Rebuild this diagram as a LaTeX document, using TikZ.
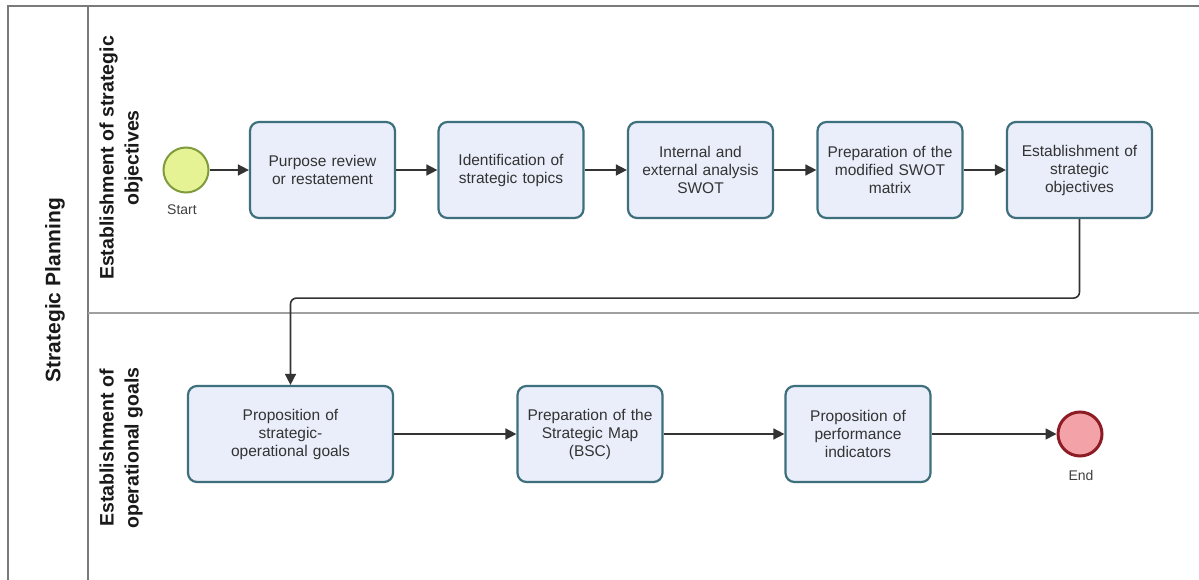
\documentclass[tikz,border=0pt]{standalone}
\usepackage{fontspec}
\setmainfont{Liberation Sans}
\usetikzlibrary{arrows.meta}
\definecolor{boxfill}{HTML}{E9EEFA}
\definecolor{boxline}{HTML}{3E6F7C}
\definecolor{startfill}{HTML}{E6F395}
\definecolor{startline}{HTML}{7F9B3C}
\definecolor{endfill}{HTML}{F3A2A8}
\definecolor{endline}{HTML}{8E1C25}
\definecolor{framec}{HTML}{7A7A7A}
\definecolor{lanec}{HTML}{A0A0A0}
\definecolor{txt}{HTML}{333333}
\tikzset{
  task/.style={draw=boxline, fill=boxfill, line width=2.2pt, rounded corners=9pt,
    minimum width=145pt, minimum height=96pt, text width=135pt, align=center,
    text=txt, font=\fontsize{15.5}{18}\selectfont, inner sep=0pt},
  startev/.style={circle, draw=startline, fill=startfill, line width=2pt, minimum size=45pt, inner sep=0pt},
  endev/.style={circle, draw=endline, fill=endfill, line width=3pt, minimum size=44pt, inner sep=0pt},
  evlabel/.style={text=black!75, font=\fontsize{14}{16}\selectfont},
  flow/.style={draw=black!80, line width=1.6pt, -{Triangle[length=11pt,width=11pt]}},
  framel/.style={draw=framec, line width=1.5pt},
  lanel/.style={draw=lanec, line width=2.2pt},
  lanelabel/.style={rotate=90, align=center, font=\bfseries\fontsize{19.5}{25}\selectfont, text=black!90},
}
\begin{document}
\begin{tikzpicture}[x=1pt,y=-1pt]
\useasboundingbox (0,0) rectangle (1199,580);
\fill[white] (0,0) rectangle (1199,580);
% frame
\draw[framel] (8,580) -- (8,6) -- (1199,6);
\draw[framel] (88,6) -- (88,580);
\draw[lanel] (88,313) -- (1199,313);
% titles
\node[lanelabel, font=\bfseries\fontsize{21}{25}\selectfont] (pool) at (55,290) {Strategic Planning};
\node[lanelabel] (lane1) at (121,158) {Establishment of strategic\\objectives};
\node[lanelabel] (lane2) at (121,448) {Establishment of\\operational goals};
% top lane
\node[startev] (start) at (186,170) {};
\node[evlabel] (startl) at (182,210) {Start};
\node[task] (b1) at (322.5,170) {Purpose review\\or restatement};
\node[task] (b2) at (511,170) {Identification of\\strategic topics};
\node[task] (b3) at (700.5,170) {Internal and\\external analysis\\SWOT};
\node[task] (b4) at (890,170) {Preparation of the\\modified SWOT\\matrix};
\node[task] (b5) at (1079.5,170) {Establishment of\\strategic\\objectives};
% bottom lane
\node[task, minimum width=205pt, text width=190pt] (b6) at (290.5,434) {Proposition of\\strategic-\\operational goals};
\node[task] (b7) at (590,434) {Preparation of the\\Strategic Map\\(BSC)};
\node[task] (b8) at (858,434) {Proposition of\\performance\\indicators};
\node[endev] (end) at (1080,434) {};
\node[evlabel] (endl) at (1081,475) {End};
% flows
\draw[flow] (start) -- (b1);
\draw[flow] (b1) -- (b2);
\draw[flow] (b2) -- (b3);
\draw[flow] (b3) -- (b4);
\draw[flow] (b4) -- (b5);
\draw[flow, rounded corners=6pt] (b5.south) -- ++(0,79) -| (b6.north);
\draw[flow] (b6) -- (b7);
\draw[flow] (b7) -- (b8);
\draw[flow] (b8) -- (end);
\end{tikzpicture}
\end{document}
